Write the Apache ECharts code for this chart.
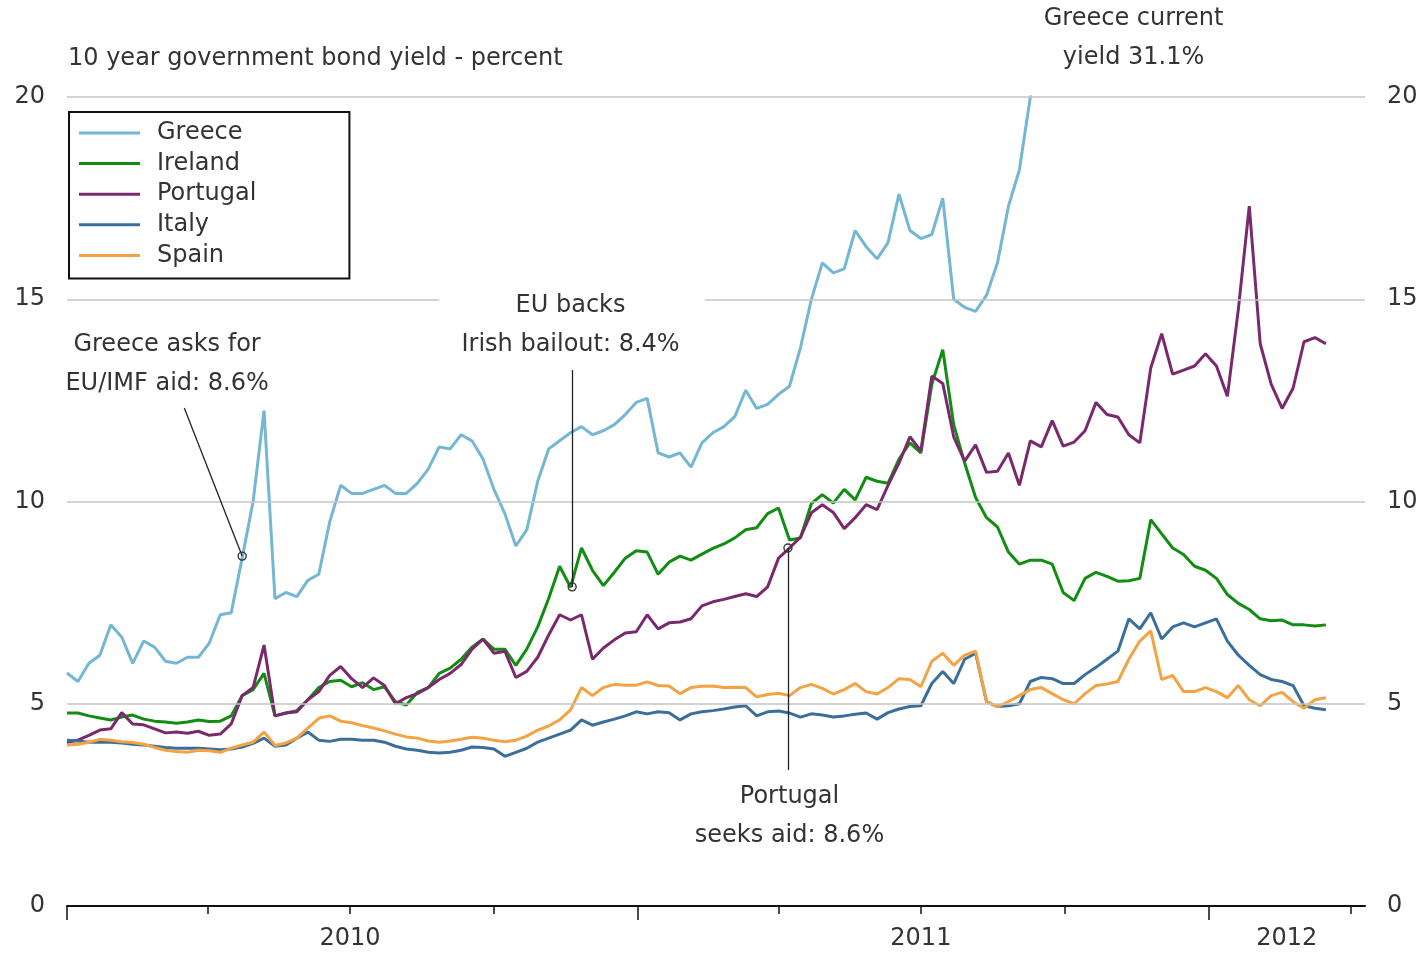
<!DOCTYPE html>
<html>
<head>
<meta charset="utf-8">
<script src="https://cdn.jsdelivr.net/npm/echarts@6/dist/echarts.min.js"></script>
<style>
html,body{margin:0;padding:0;background:#fff;}
#chart{width:1425px;height:954px;}
</style>
</head>
<body>
<div id="chart"></div>
<script>
// ---- data ----
const dates = [
'2010-01-01','2010-01-08','2010-01-15','2010-01-22','2010-01-29','2010-02-05','2010-02-12','2010-02-19','2010-02-26',
'2010-03-05','2010-03-12','2010-03-19','2010-03-26','2010-04-02','2010-04-09','2010-04-16','2010-04-23','2010-04-30',
'2010-05-07','2010-05-14','2010-05-21','2010-05-28','2010-06-04','2010-06-11','2010-06-18','2010-06-25',
'2010-07-02','2010-07-09','2010-07-16','2010-07-23','2010-07-30','2010-08-06','2010-08-13','2010-08-20','2010-08-27',
'2010-09-03','2010-09-10','2010-09-17','2010-09-24','2010-10-01','2010-10-08','2010-10-15','2010-10-22','2010-10-29',
'2010-11-05','2010-11-12','2010-11-19','2010-11-26','2010-12-03','2010-12-10','2010-12-17','2010-12-24','2010-12-31',
'2011-01-07','2011-01-14','2011-01-21','2011-01-28','2011-02-04','2011-02-11','2011-02-18','2011-02-25',
'2011-03-04','2011-03-11','2011-03-18','2011-03-25','2011-04-01','2011-04-08','2011-04-15','2011-04-22','2011-04-29',
'2011-05-06','2011-05-13','2011-05-20','2011-05-27','2011-06-03','2011-06-10','2011-06-17','2011-06-24',
'2011-07-01','2011-07-08','2011-07-15','2011-07-22','2011-07-29','2011-08-05','2011-08-12','2011-08-19','2011-08-26',
'2011-09-02','2011-09-09','2011-09-16','2011-09-23','2011-09-30','2011-10-07','2011-10-14','2011-10-21','2011-10-28',
'2011-11-04','2011-11-11','2011-11-18','2011-11-25','2011-12-02','2011-12-09','2011-12-16','2011-12-23','2011-12-30',
'2012-01-06','2012-01-13','2012-01-20','2012-01-27','2012-02-03','2012-02-10','2012-02-17','2012-02-24',
'2012-03-02','2012-03-09','2012-03-16'
];

const greece = [
5.76,5.55,6.0,6.2,6.95,6.65,6.0,6.55,6.4,6.05,6.0,6.15,6.15,6.5,7.2,7.25,8.6,10.0,12.25,7.6,
7.75,7.65,8.05,8.2,9.5,10.4,10.2,10.2,10.3,10.4,10.2,10.2,10.45,10.8,11.35,11.3,11.65,11.5,11.05,10.3,
9.7,8.9,9.3,10.5,11.3,11.5,11.7,11.85,11.65,11.75,11.9,12.15,12.45,12.55,11.2,11.1,11.2,10.85,11.45,11.7,
11.85,12.1,12.75,12.3,12.4,12.65,12.85,13.8,15.0,15.9,15.65,15.75,16.7,16.3,16.0,16.4,17.6,16.7,16.5,16.6,
17.5,15.0,14.8,14.7,15.1,15.9,17.3,18.2,20.0,21.5,22.5,23.0,23.5,23.0,24.0,25.0,26.0,27.0,27.5,28.0,
29.0,30.0,32.0,33.0,34.0,34.0,34.0,33.0,34.0,35.0,36.0,36.0,34.0,32.0,31.0,31.1
];
const ireland = [
4.77,4.77,4.7,4.65,4.6,4.67,4.72,4.62,4.57,4.55,4.52,4.55,4.6,4.56,4.57,4.7,5.2,5.35,5.75,4.7,
4.77,4.83,5.1,5.4,5.55,5.58,5.42,5.52,5.35,5.42,5.05,4.97,5.28,5.4,5.75,5.88,6.1,6.4,6.6,6.35,
6.35,5.95,6.35,6.9,7.6,8.4,7.88,8.85,8.3,7.92,8.25,8.6,8.78,8.75,8.2,8.5,8.65,8.55,8.7,8.84,
8.95,9.1,9.3,9.35,9.7,9.84,9.05,9.1,9.95,10.17,9.96,10.3,10.04,10.6,10.5,10.45,11.05,11.45,11.2,12.9,
13.75,11.9,10.95,10.1,9.6,9.37,8.75,8.45,8.55,8.55,8.45,7.75,7.55,8.1,8.25,8.15,8.03,8.04,8.1,9.55,
9.2,8.85,8.69,8.4,8.3,8.1,7.7,7.48,7.33,7.1,7.05,7.07,6.95,6.95,6.92,6.95
];
const portugal = [
4.05,4.1,4.22,4.35,4.38,4.78,4.5,4.48,4.38,4.28,4.3,4.27,4.32,4.22,4.25,4.5,5.2,5.4,6.45,4.7,
4.77,4.8,5.1,5.3,5.7,5.92,5.62,5.4,5.64,5.45,5.0,5.15,5.25,5.4,5.6,5.75,5.97,6.35,6.6,6.25,
6.3,5.65,5.8,6.15,6.7,7.2,7.07,7.2,6.1,6.38,6.58,6.75,6.78,7.2,6.85,7.0,7.02,7.1,7.42,7.52,
7.58,7.65,7.72,7.65,7.89,8.6,8.85,9.12,9.72,9.92,9.73,9.33,9.6,9.92,9.8,10.4,10.95,11.6,11.25,13.1,
12.92,11.6,11.0,11.4,10.72,10.75,11.2,10.4,11.5,11.35,12.0,11.37,11.47,11.75,12.45,12.15,12.09,11.65,11.45,13.3,
14.15,13.15,13.25,13.35,13.65,13.35,12.6,14.75,17.3,13.9,12.9,12.3,12.8,13.95,14.05,13.9
];
const italy = [
4.1,4.08,4.05,4.05,4.05,4.03,4.0,3.98,3.95,3.92,3.9,3.9,3.9,3.88,3.86,3.88,3.93,4.02,4.15,3.95,
3.98,4.15,4.3,4.1,4.07,4.12,4.12,4.1,4.1,4.05,3.95,3.88,3.85,3.8,3.78,3.8,3.85,3.93,3.92,3.88,
3.7,3.8,3.9,4.05,4.15,4.25,4.35,4.6,4.47,4.55,4.62,4.7,4.8,4.75,4.8,4.78,4.6,4.75,4.8,4.83,
4.87,4.92,4.95,4.7,4.8,4.82,4.77,4.67,4.75,4.72,4.67,4.7,4.74,4.77,4.62,4.78,4.87,4.93,4.95,5.5,
5.8,5.5,6.1,6.25,5.05,4.93,4.95,5.0,5.55,5.65,5.62,5.5,5.5,5.72,5.9,6.1,6.3,7.1,6.85,7.25,
6.6,6.9,7.0,6.9,7.0,7.1,6.55,6.2,5.95,5.72,5.6,5.55,5.45,4.95,4.89,4.85
];
const spain = [
3.98,4.0,4.05,4.12,4.1,4.06,4.04,4.0,3.92,3.85,3.82,3.8,3.85,3.84,3.8,3.9,3.98,4.05,4.3,3.97,
4.03,4.15,4.4,4.64,4.7,4.57,4.53,4.46,4.4,4.33,4.25,4.18,4.15,4.08,4.05,4.08,4.12,4.17,4.15,4.1,
4.06,4.1,4.2,4.35,4.45,4.6,4.85,5.4,5.2,5.4,5.48,5.46,5.46,5.54,5.45,5.44,5.25,5.4,5.43,5.44,
5.4,5.41,5.4,5.17,5.23,5.26,5.2,5.4,5.48,5.38,5.24,5.35,5.5,5.3,5.24,5.4,5.62,5.6,5.42,6.05,
6.25,5.95,6.2,6.3,5.05,4.93,5.05,5.2,5.35,5.4,5.25,5.1,5.0,5.25,5.45,5.49,5.55,6.1,6.55,6.8,
5.6,5.7,5.3,5.3,5.4,5.3,5.15,5.45,5.1,4.95,5.2,5.28,5.05,4.89,5.1,5.15
];

const seriesNames = ['Greece','Ireland','Portugal','Italy','Spain'];
const seriesValues = [greece, ireland, portugal, italy, spain];
const seriesColors = ['#74b6d4','#128c12','#7a2a6c','#3b6f9b','#f3a244'];

const yTicks = [0, 5, 10, 15, 20];
const quarterTicks = ['2010-01-01','2010-04-01','2010-07-01','2010-10-01','2011-01-01','2011-04-01','2011-07-01','2011-10-01','2012-01-01','2012-04-01'];
const yearTicks = ['2010-01-01','2011-01-01','2012-01-01'];
const yearLabelPos = ['2010-07-01','2011-07-01','2012-02-20'];
const axisStart = '2010-01-01';
const axisEnd = '2012-04-10';

const subtitle = '10 year government bond yield - percent';
// annotations: text, text anchor [date, value], leader line, circle point
const annotations = [
  {text: 'Greece asks for\nEU/IMF aid: 8.6%', at: ['2010-03-06', 13.39], line: [['2010-03-17', 12.31], ['2010-04-23', 8.65]], dot: ['2010-04-23', 8.65]},
  {text: 'EU backs\nIrish bailout: 8.4%', at: ['2010-11-19', 14.35], line: [['2010-11-20', 13.25], ['2010-11-20', 7.89]], dot: ['2010-11-20', 7.89]},
  {text: 'Portugal\nseeks aid: 8.6%', at: ['2011-04-08', 2.22], line: [['2011-04-07', 8.85], ['2011-04-07', 3.36]], dot: ['2011-04-07', 8.85]}
];
// note placed above the plot top (outside the value range), anchored to data coordinates
const topNote = {text: 'Greece current\nyield 31.1%', at: ['2011-11-14', 21.46]};
const gridBreak15 = ['2010-08-27', '2011-02-13'];

// ---- chart ----
const DAY0 = Date.parse(axisStart + 'T00:00:00Z');
// convert a date string to a day number on the x value axis
const D = s => Math.round((Date.parse(s + 'T00:00:00Z') - DAY0) / 86400000);
const FONT = 'DejaVu Sans';
const TXT = '#333333';

const chart = echarts.init(document.getElementById('chart'), null, {renderer: 'canvas'});

const dataSeries = seriesNames.map((name, k) => ({
  name: name,
  type: 'line',
  xAxisIndex: 0,
  data: seriesValues[k].map((v, i) => [D(dates[i]), v]),
  showSymbol: false,
  symbol: 'none',
  clip: true,
  z: 3,
  color: seriesColors[k],
  lineStyle: {width: 3, color: seriesColors[k]}
}));

const gridLineSeries = {
  name: '_grid',
  type: 'line',
  data: [],
  z: 1,
  silent: true,
  markLine: {
    silent: true,
    symbol: ['none', 'none'],
    label: {show: false},
    lineStyle: {color: '#c4c4c4', width: 1.5, type: 'solid'},
    animation: false,
    data: [
      {yAxis: 5}, {yAxis: 10}, {yAxis: 20},
      [{coord: [D(axisStart), 15]}, {coord: [D(gridBreak15[0]), 15]}],
      [{coord: [D(gridBreak15[1]), 15]}, {coord: [D(axisEnd), 15]}]
    ]
  }
};

const annotSeries = {
  name: '_annot',
  type: 'line',
  data: [],
  z: 5,
  silent: true,
  markLine: {
    silent: true,
    symbol: ['none', 'none'],
    label: {show: false},
    lineStyle: {color: '#222', width: 1.3, type: 'solid'},
    animation: false,
    data: annotations.filter(a => a.line).map(a => [
      {coord: [D(a.line[0][0]), a.line[0][1]]},
      {coord: [D(a.line[1][0]), a.line[1][1]]}
    ])
  },
  markPoint: {
    silent: true,
    animation: false,
    data: annotations.map(a => ({
      coord: [D(a.at[0]), a.at[1]],
      symbol: 'rect',
      symbolSize: 1,
      itemStyle: {color: 'rgba(0,0,0,0)'},
      label: {
        show: true, position: 'inside', formatter: a.text,
        fontFamily: FONT, fontSize: 24, lineHeight: 39, color: TXT, align: 'center'
      }
    })).concat(annotations.filter(a => a.dot).map(a => ({
      coord: [D(a.dot[0]), a.dot[1]],
      symbol: 'circle',
      symbolSize: 8,
      itemStyle: {color: 'rgba(255,255,255,0)', borderColor: '#333', borderWidth: 1.4},
      label: {show: false}
    })))
  }
};

const yAxisBase = (pos) => ({
  type: 'value',
  position: pos,
  min: 0, max: 20, interval: 5,
  axisLine: {show: false},
  axisTick: {show: false},
  splitLine: {show: false},
  axisLabel: {show: true, fontFamily: FONT, fontSize: 24, color: TXT, margin: 22}
});

const option = {
  animation: false,
  backgroundColor: '#ffffff',
  textStyle: {fontFamily: FONT},
  grid: {left: 67, right: 60, top: 97, bottom: 48, containLabel: false},
  title: {
    text: subtitle,
    left: 63, top: 42,
    textStyle: {fontFamily: FONT, fontSize: 24, fontWeight: 'normal', color: TXT}
  },
  legend: {
    data: seriesNames,
    orient: 'vertical',
    left: 69, top: 112,
    backgroundColor: '#ffffff',
    borderColor: '#111',
    borderWidth: 2,
    borderRadius: 0,
    padding: [9, 93, 11, 10],
    itemWidth: 61,
    itemHeight: 3,
    itemGap: 6.6,
    icon: 'rect',
    selectedMode: false,
    textStyle: {fontFamily: FONT, fontSize: 24, color: TXT, lineHeight: 24, padding: [0, 0, 0, 12]}
  },
  xAxis: [
    {
      type: 'value',
      min: D(axisStart), max: D(axisEnd),
      position: 'bottom',
      axisLine: {show: true, onZero: false, lineStyle: {color: '#111', width: 2}},
      axisTick: {show: true, length: 8, lineStyle: {color: '#111', width: 1.5}, customValues: quarterTicks.map(D)},
      axisLabel: {show: false},
      splitLine: {show: false}
    },
    {
      type: 'value',
      min: D(axisStart), max: D(axisEnd),
      position: 'bottom',
      axisLine: {show: false, onZero: false},
      axisTick: {show: true, length: 14, lineStyle: {color: '#111', width: 1.5}, customValues: yearTicks.map(D)},
      axisLabel: {
        show: true, fontFamily: FONT, fontSize: 24, color: TXT, margin: 21,
        customValues: yearLabelPos.map(D),
        formatter: v => String(new Date(DAY0 + v * 86400000).getUTCFullYear())
      },
      splitLine: {show: false}
    }
  ],
  yAxis: [yAxisBase('left'), yAxisBase('right')],
  series: [gridLineSeries].concat(dataSeries).concat([annotSeries])
};

chart.setOption(option);

// place the note above the plot using the chart's own scales
const notePx = chart.convertToPixel({xAxisIndex: 0, yAxisIndex: 0}, [D(topNote.at[0]), topNote.at[1]]);
chart.setOption({
  graphic: [{
    type: 'text',
    x: notePx[0], y: notePx[1],
    silent: true,
    style: {
      text: topNote.text, fontFamily: FONT, fontSize: 24, lineHeight: 39,
      fill: TXT, align: 'center', verticalAlign: 'middle'
    }
  }]
});
</script>
</body>
</html>
